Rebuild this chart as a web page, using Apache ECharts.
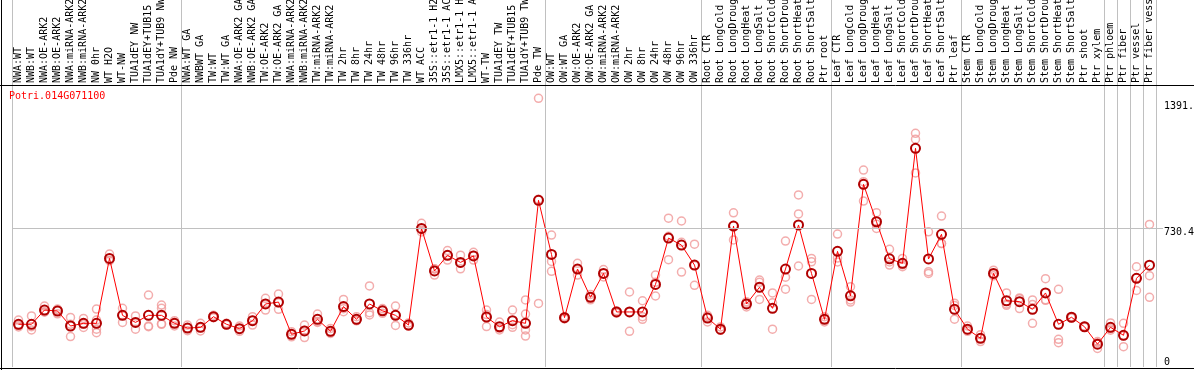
<!DOCTYPE html>
<html>
<head>
<meta charset="utf-8">
<script src="https://cdn.jsdelivr.net/npm/echarts@6/dist/echarts.min.js"></script>
<style>
html,body{margin:0;padding:0;background:#fff;}
#chart{width:1194px;height:370px;}
</style>
</head>
<body>
<div id="chart"></div>
<script>
const geneName = 'Potri.014G071100';

const categories = [
  'NWA:WT','NWB:WT','NWA:OE-ARK2','NWB:OE-ARK2','NWA:miRNA-ARK2','NWB:miRNA-ARK2','NW 0hr','WT H2O','WT-NW','TUA1dEY NW','TUA1dEY+TUB15 NW','TUA1dY+TUB9 NW','Pde NW',
  'NWA:WT GA','NWBWT GA','TW:WT','TW:WT GA','NWA:OE-ARK2 GA','NWB:OE-ARK2 GA','TW:OE-ARK2','TW:OE-ARK2 GA','NWA:miRNA-ARK2','NWB:miRNA-ARK2','TW:miRNA-ARK2','TW:miRNA-ARK2','TW 2hr','TW 8hr','TW 24hr','TW 48hr','TW 96hr','TW 336hr','WT ACC','35S::etr1-1 H2O','35S::etr1-1 ACC','LMX5::etr1-1 H2O','LMX5::etr1-1 ACC','WT-TW','TUA1dEY TW','TUA1dEY+TUB15 TW','TUA1dY+TUB9 TW','Pde TW',
  'OW:WT','OW:WT GA','OW:OE-ARK2','OW:OE-ARK2 GA','OW:miRNA-ARK2','OW:miRNA-ARK2','OW 2hr','OW 8hr','OW 24hr','OW 48hr','OW 96hr','OW 336hr',
  'Root CTR','Root LongCold','Root LongDrought','Root LongHeat','Root LongSalt','Root ShortCold','Root ShortDrought','Root ShortHeat','Root ShortSalt','Ptr root',
  'Leaf CTR','Leaf LongCold','Leaf LongDrought','Leaf LongHeat','Leaf LongSalt','Leaf ShortCold','Leaf ShortDrought','Leaf ShortHeat','Leaf ShortSalt','Ptr leaf',
  'Stem CTR','Stem LongCold','Stem LongDrought','Stem LongHeat','Stem LongSalt','Stem ShortCold','Stem ShortDrought','Stem ShortHeat','Stem ShortSalt','Ptr shoot','Ptr xylem',
  'Ptr phloem','Ptr fiber','Ptr vessel','Ptr fiber vessel'
];

const groupSizes = [13, 28, 12, 10, 10, 11, 1, 1, 1, 1];

const meanValues = [
  225,225,300,295,216,230,230,572,272,235,272,272,230,
  205,209,265,225,202,244,332,342,172,190,251,188,318,251,332,296,272,221,730,506,588,551,585,263,212,244,230,878,
  593,260,516,367,493,290,290,290,435,679,642,537,
  258,199,742,332,420,309,516,748,493,251,
  609,375,962,765,570,546,1152,569,699,304,
  199,151,493,349,344,304,390,225,262,212,120,
  209,167,467,536
];

const replicateValues = [
  [247,211,218],[269,195,212],[321,290,290],[300,280,305],[261,160,225],[256,208,226],[305,247,199,181],[595,560,562],[309,235,272],[269,199,237],[379,216,212],[326,309,228,225],[244,216,230],
  [221,191,205],[230,190,207],[272,260,263],[230,222,225],[216,188,202],[265,221,246],[362,300,334],[384,304,338],[159,186,171],[221,155,194],[279,235,239],[203,177,184],[356,291,307],[243,265,245],[427,286,274],[308,283,297],[321,219,276],[232,215,216],[757,711,722],[516,484,518],[613,563,588],[589,517,547],[604,563,588],[300,213,276],[237,195,204],[300,209,223],[353,279,195,163],[1415,335,884],
  [695,556,504],[266,253,260],[546,484,518],[382,354,367],[513,474,493],[296,284,290],[395,188,290],[349,265,251],[484,374,446],[784,565,688],[769,500,657],[647,430,534],
  [265,237,272],[211,193,193],[812,669,745],[344,316,336],[458,356,446],[390,199,338],[663,473,410],[906,806,532],[572,554,356],[265,237,251],
  [700,553,574],[423,353,342],[1037,976,874],[813,730,752],[620,537,553],[572,528,538],[1231,1200,1022],[712,493,502],[795,651,650],[336,252,324],
  [216,193,188],[170,134,151],[510,480,490],[390,325,332],[360,308,364],[353,230,329],[465,351,354],[409,146,128],[265,258,263],[214,209,213],[134,98,128],
  [232,201,194],[230,107,164],[528,403,470],[751,481,367]
];

const yTickValues = [0, 730.4, 1391.4];
const yGridValue = 730.4;
const yMax = 1480;

// group boundaries (category index where each group starts)
const groupStarts = [];
groupSizes.reduce((acc, n) => { groupStarts.push(acc); return acc + n; }, 0);
const isGroupStart = (idx) => groupStarts.indexOf(idx) >= 0;

const FONT = 'DejaVu Sans Mono';
const sepLine = { show: true, interval: isGroupStart, lineStyle: { color: '#c0c0c0', width: 1, type: 'solid' } };

const replicatePoints = [];
replicateValues.forEach((arr, i) => arr.forEach(v => replicatePoints.push([i, v])));

const chart = echarts.init(document.getElementById('chart'), null, { renderer: 'canvas' });
chart.setOption({
  animation: false,
  backgroundColor: '#ffffff',
  title: {
    text: geneName, left: 9, top: 91, padding: 0,
    textStyle: { color: '#ff0000', fontSize: 10, fontFamily: FONT, fontWeight: 'normal' }
  },
  grid: [
    { left: 12, right: 38, top: 0, height: 86, outerBoundsMode: 'none', containLabel: false },
    { left: 12, right: 38, top: 86, bottom: 3, outerBoundsMode: 'none', containLabel: false }
  ],
  xAxis: [
    {
      gridIndex: 0, type: 'category', data: categories, boundaryGap: true,
      axisLine: { show: false }, axisTick: { show: false }, axisLabel: { show: false },
      splitLine: sepLine
    },
    {
      gridIndex: 1, type: 'category', data: categories, boundaryGap: true, position: 'top',
      axisLine: { show: false }, axisTick: { show: false },
      axisLabel: { show: true, interval: 0, rotate: 90, margin: 3, fontSize: 10, fontFamily: FONT, color: '#000' },
      splitLine: sepLine
    }
  ],
  yAxis: [
    { gridIndex: 0, type: 'value', show: false },
    {
      gridIndex: 1, type: 'value', min: 0, max: yMax, position: 'right',
      axisLine: { show: false },
      axisTick: { show: true, customValues: [yGridValue], length: 7, inside: false, lineStyle: { color: '#c0c0c0', width: 1 } },
      splitLine: { show: false },
      axisLabel: {
        show: true, customValues: yTickValues, margin: 8, color: '#000', fontSize: 10, fontFamily: FONT,
        formatter: (v) => v === 0 ? '{z|0}' : '{t|' + v + '}',
        rich: {
          t: { padding: [8, 0, 0, 0], fontSize: 10, fontFamily: FONT, color: '#000' },
          z: { padding: [0, 0, 10, 0], fontSize: 10, fontFamily: FONT, color: '#000' }
        }
      }
    }
  ],
  graphic: [
    { type: 'line', silent: true, z: 100, shape: { x1: 1.5, y1: 0, x2: 1.5, y2: 370 }, style: { stroke: '#000', lineWidth: 1 } },
    { type: 'line', silent: true, z: 100, shape: { x1: 0, y1: 85.5, x2: 1194, y2: 85.5 }, style: { stroke: '#000', lineWidth: 1 } },
    { type: 'line', silent: true, z: 100, shape: { x1: 0, y1: 368.5, x2: 1194, y2: 368.5 }, style: { stroke: '#000', lineWidth: 1 } }
  ],
  series: [
    {
      type: 'line', xAxisIndex: 1, yAxisIndex: 1, data: [], z: 1, silent: true,
      markLine: {
        silent: true, symbol: ['none', 'none'], label: { show: false },
        lineStyle: { color: '#c0c0c0', width: 1, type: 'solid' },
        emphasis: { disabled: true },
        data: [{ yAxis: yGridValue }]
      }
    },
    {
      type: 'scatter', xAxisIndex: 1, yAxisIndex: 1, data: replicatePoints, z: 2, silent: true,
      symbol: 'circle', symbolSize: 8,
      itemStyle: { color: 'rgba(0,0,0,0)', borderColor: '#f09898', borderWidth: 1.5 },
      emphasis: { disabled: true }
    },
    {
      type: 'line', xAxisIndex: 1, yAxisIndex: 1, data: meanValues, z: 3, silent: true,
      symbol: 'circle', symbolSize: 9, showAllSymbol: true,
      lineStyle: { color: '#ff0000', width: 1 },
      itemStyle: { color: 'rgba(0,0,0,0)', borderColor: '#b00000', borderWidth: 2 },
      emphasis: { disabled: true }
    }
  ]
});
</script>
</body>
</html>
